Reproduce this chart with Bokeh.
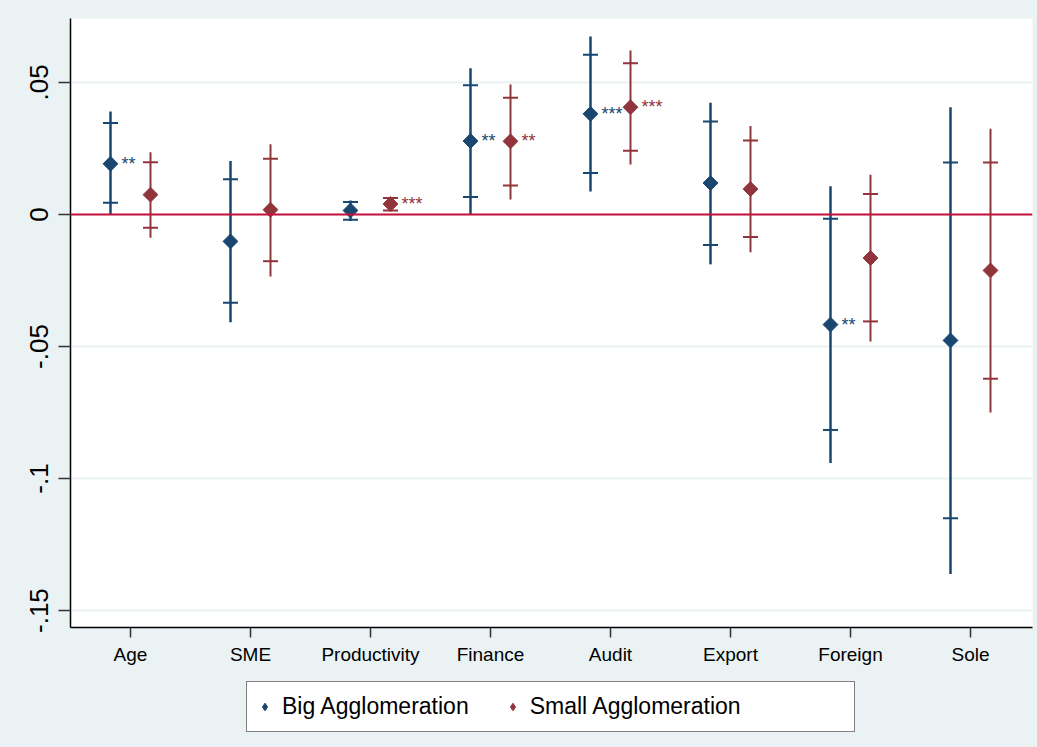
import math
from bokeh.plotting import figure
from bokeh.layouts import column
from bokeh.models import (Range1d, FixedTicker, Span, Legend, LegendItem,
                          ColumnDataSource)
from bokeh.embed import file_html
from bokeh.resources import INLINE

# ---------------- data ----------------
categories = ["Age", "SME", "Productivity", "Finance", "Audit", "Export", "Foreign", "Sole"]

big_est    = [0.0192, -0.0102, 0.0015, 0.0278, 0.0381, 0.0119, -0.0417, -0.0477]
big_lo_out = [0.0000, -0.0408, -0.0025, 0.0000, 0.0087, -0.0189, -0.0941, -0.1361]
big_hi_out = [0.0390, 0.0202, 0.0053, 0.0554, 0.0674, 0.0423, 0.0107, 0.0406]
big_lo_in  = [0.0044, -0.0334, -0.0020, 0.0066, 0.0157, -0.0116, -0.0816, -0.1150]
big_hi_in  = [0.0346, 0.0133, 0.0047, 0.0489, 0.0605, 0.0352, -0.0016, 0.0197]
big_stars  = ["**", "", "", "**", "***", "", "**", ""]

small_est    = [0.0075, 0.0018, 0.0040, 0.0277, 0.0406, 0.0096, -0.0165, -0.0212]
small_lo_out = [-0.0088, -0.0235, 0.0011, 0.0057, 0.0189, -0.0143, -0.0481, -0.0750]
small_hi_out = [0.0236, 0.0266, 0.0066, 0.0492, 0.0621, 0.0335, 0.0150, 0.0325]
small_lo_in  = [-0.0050, -0.0177, 0.0015, 0.0110, 0.0241, -0.0085, -0.0405, -0.0622]
small_hi_in  = [0.0198, 0.0211, 0.0062, 0.0442, 0.0573, 0.0280, 0.0077, 0.0197]
small_stars  = ["", "", "***", "**", "***", "", "", ""]

y_ticks = [-0.15, -0.1, -0.05, 0.0, 0.05]
y_tick_labels = ["-.15", "-.1", "-.05", "0", ".05"]

series_names = ["Big Agglomeration", "Small Agglomeration"]

# ---------------- style ----------------
FONT = "Liberation Sans"
BG = "#eaf2f3"
NAVY = "#1a476f"
MAROON = "#90353b"
ZERO = "#c8103c"
OFF = 1.0 / 6.0

p = figure(width=1037, height=675,
           x_range=Range1d(0.5, 8.5167), y_range=Range1d(-0.1564, 0.0742),
           output_backend="svg", toolbar_location=None,
           min_border_left=70, min_border_right=5,
           min_border_top=18, min_border_bottom=48)
p.border_fill_color = BG
p.background_fill_color = "white"
p.outline_line_color = None

p.xgrid.grid_line_color = None
p.ygrid.grid_line_color = BG
p.ygrid.grid_line_width = 2

zero = Span(location=0, dimension="width", line_color=ZERO, line_width=2)
p.add_layout(zero)

# legend strip (a second figure right under the plot)
lf = figure(width=1037, height=72, x_range=Range1d(100, 101), y_range=Range1d(100, 101),
            output_backend="svg", toolbar_location=None,
            x_axis_location=None, y_axis_location=None,
            min_border_left=70, min_border_right=5,
            min_border_top=0, min_border_bottom=0)
lf.border_fill_color = BG
lf.background_fill_color = BG
lf.outline_line_color = None
lf.grid.grid_line_color = None

legend_renderers = []
for name, col, est, lo_o, hi_o, lo_i, hi_i, stars, off, lw in [
    (series_names[0], NAVY, big_est, big_lo_out, big_hi_out, big_lo_in, big_hi_in, big_stars, -OFF, 2.5),
    (series_names[1], MAROON, small_est, small_lo_out, small_hi_out, small_lo_in, small_hi_in, small_stars, OFF, 2.0),
]:
    xs = [i + 1 + off for i in range(len(categories))]
    src = ColumnDataSource(dict(x=xs, est=est, lo_o=lo_o, hi_o=hi_o, lo_i=lo_i, hi_i=hi_i))
    p.segment(x0="x", y0="lo_o", x1="x", y1="hi_o", source=src,
              line_color=col, line_width=lw)
    p.scatter(x="x", y="lo_i", source=src, marker="dash", size=15,
              line_color=col, line_width=2)
    p.scatter(x="x", y="hi_i", source=src, marker="dash", size=15,
              line_color=col, line_width=2)
    p.scatter(x="x", y="est", source=src, marker="square", angle=math.pi / 4,
              size=10.5, fill_color=col, line_color=col)
    sx = [x for x, s in zip(xs, stars) if s]
    sy = [e for e, s in zip(est, stars) if s]
    st = [s for s in stars if s]
    p.text(x=sx, y=sy, text=st, x_offset=11, y_offset=0,
           text_align="left", text_baseline="middle",
           text_font_size="18px", text_color=col, text_font={"value": FONT})
    # legend key renderer (same data, outside the strip's visible range)
    lr = lf.scatter(x="x", y="est", source=src, marker="diamond",
                    size=12, fill_color=col, line_color=col)
    legend_renderers.append((name, lr))

blank = lf.scatter(x=[], y=[], marker="square", size=1, fill_alpha=0, line_alpha=0)

# ---------------- axes ----------------
p.xaxis.ticker = FixedTicker(ticks=list(range(1, len(categories) + 1)))
p.xaxis.major_label_overrides = {i + 1: c for i, c in enumerate(categories)}
p.xaxis.major_label_text_font = FONT
p.xaxis.major_label_text_font_size = "19px"
p.xaxis.major_label_text_color = "black"
p.xaxis.major_label_standoff = 6
p.xaxis.major_tick_out = 10
p.xaxis.major_tick_in = 0

p.yaxis.ticker = FixedTicker(ticks=y_ticks)
p.yaxis.major_label_overrides = {t: l for t, l in zip(y_ticks, y_tick_labels)}
p.yaxis.major_label_orientation = "vertical"
p.yaxis.major_label_text_font = FONT
p.yaxis.major_label_text_font_size = "26px"
p.yaxis.major_label_text_color = "black"
p.yaxis.major_label_standoff = 10
p.yaxis.major_tick_out = 12
p.yaxis.major_tick_in = 0

for ax in (p.xaxis, p.yaxis):
    ax.axis_line_color = "black"
    ax.axis_line_width = 1.5
    ax.major_tick_line_color = "#333333"
    ax.major_tick_line_width = 1.5
    ax.minor_tick_line_color = None

# ---------------- legend ----------------
items = [LegendItem(label=n, renderers=[r]) for n, r in legend_renderers]
items.append(LegendItem(label="\u00a0" * 7, renderers=[blank]))
legend = Legend(items=items, orientation="horizontal", location=(176, 15),
                padding=8, spacing=34, glyph_width=19, glyph_height=33,
                label_standoff=8, label_text_font=FONT,
                label_text_font_size="23px", label_text_color="black",
                border_line_color="black", border_line_width=1.5,
                background_fill_color="white", background_fill_alpha=1.0,
                margin=0)
lf.add_layout(legend)

layout = column(p, lf, spacing=0, styles={"background-color": BG})
open("out.html", "w").write(file_html(layout, INLINE))
